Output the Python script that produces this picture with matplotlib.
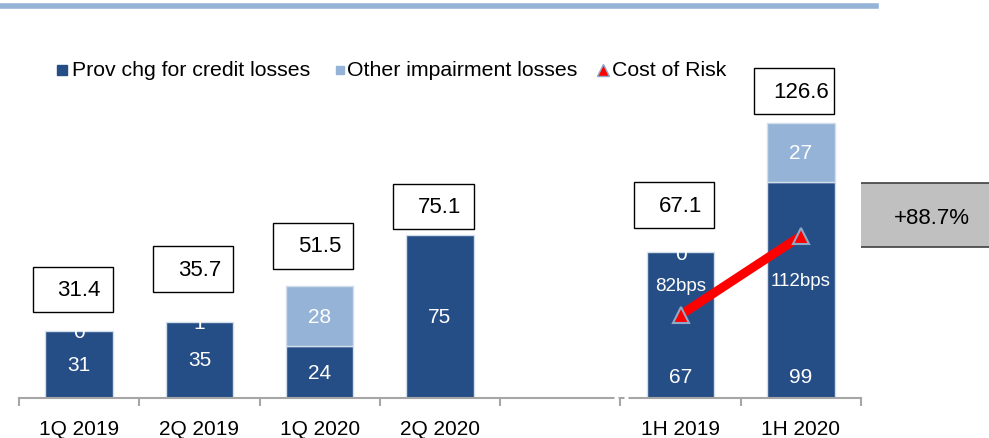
import matplotlib
matplotlib.use("Agg")
import matplotlib.pyplot as plt
from matplotlib.lines import Line2D
from matplotlib.patches import Rectangle

plt.rcParams["font.family"] = ["Liberation Sans", "DejaVu Sans"]

# ---- data ----
categories = ["1Q 2019", "2Q 2019", "1Q 2020", "2Q 2020", "", "1H 2019", "1H 2020"]
bar_slots = [0, 1, 2, 3, 5, 6]
prov_chg = [31.0, 35.0, 23.8, 75.0, 67.0, 99.3]
other_imp = [0.4, 0.7, 27.7, 0.0, 0.1, 27.3]
totals = [31.4, 35.7, 51.5, 75.1, 67.1, 126.6]
cor_slots = [5, 6]
cost_of_risk = [82, 112]          # bps
growth_label = "+88.7%"
legend_labels = ["Prov chg for credit losses", "Other impairment losses", "Cost of Risk"]

# ---- style / layout ----
DARK = "#264E86"
LIGHT = "#95B3D7"
EDGE = "#D3DEEC"
AXIS = "#A6A6A6"
BAR_W = 0.56
BOX_GAP = [8, 13, 8, 2.5, 11, 4]      # gap between bar top and total box (data units)
LOW_LABEL_SLOTS = {5, 6}              # dark label near the bottom on half-year bars
W, H = 989, 439


def fx(px):
    return px / W


def fy(py):
    return 1 - py / H


fig = plt.figure(figsize=(W / 100, H / 100), dpi=100)
ax = fig.add_axes([fx(19), 40 / H, 842 / W, 359 / H])
ax.set_xlim(-0.5, 6.5)
ax.set_ylim(0, 165)

ax.bar(bar_slots, prov_chg, BAR_W, color=DARK, edgecolor=EDGE, linewidth=1, zorder=2)
big = [i for i, o in enumerate(other_imp) if o >= 1]
ax.bar([bar_slots[i] for i in big], [other_imp[i] for i in big], BAR_W,
       bottom=[prov_chg[i] for i in big], color=LIGHT, edgecolor=EDGE, linewidth=1, zorder=2)

for x, d, o, tot, gap in zip(bar_slots, prov_chg, other_imp, totals, BOX_GAP):
    ylab = 10 if x in LOW_LABEL_SLOTS else d / 2
    ax.text(x, ylab, f"{d:.0f}", color="white", ha="center", va="center", fontsize=15, zorder=3)
    if o >= 1:
        ax.text(x, d + o / 2, f"{o:.0f}", color="white", ha="center", va="center",
                fontsize=15, zorder=3)
    elif o > 0:
        # tiny segment: label sits on the bar top, only its lower part shows on the bar
        ax.text(x, d + o - 3.4, f"{o:.0f}", color="white", ha="center", va="baseline",
                fontsize=15, zorder=3)
    # total box
    top = d + o
    bw, bh = 0.667, 21
    ax.add_patch(Rectangle((x - 0.054 - bw / 2, top + gap), bw, bh, facecolor="white",
                           edgecolor="black", linewidth=1, clip_on=False, zorder=4))
    ax.text(x, top + gap + bh / 2, f"{tot:.1f}", ha="center", va="center", fontsize=16,
            zorder=5, clip_on=False)

# x axis: ticks at slot boundaries, labels at centres
for s in ["top", "left", "right"]:
    ax.spines[s].set_visible(False)
ax.spines["bottom"].set_color(AXIS)
ax.spines["bottom"].set_linewidth(1.5)
ax.set_yticks([])
ax.set_xticks(range(len(categories)))
ax.set_xticklabels(categories, fontsize=15)
ax.tick_params(axis="x", which="major", length=0, pad=15)
ax.set_xticks([i - 0.5 for i in range(len(categories) + 1)], minor=True)
ax.tick_params(axis="x", which="minor", length=6, width=1.5, color=AXIS)
# small break in the axis line
for xa, xb in [(4.45, 4.48), (4.53, 4.56)]:
    ax.plot([xa, xb], [0, 0], color="white", lw=2.5, solid_capstyle="butt",
            clip_on=False, zorder=5)

# cost of risk on secondary axis
ax2 = ax.twinx()
ax2.set_ylim(50.4, 186.9)
ax2.axis("off")
ax2.plot(cor_slots, cost_of_risk, color="red", lw=6.5, zorder=3, solid_capstyle="butt")
ax2.plot(cor_slots, cost_of_risk, ls="none", marker="^", ms=12, mfc="red", mec="#8EA9C8",
         mew=1.5, zorder=4)
ax2.text(cor_slots[0], cost_of_risk[0] + 11, f"{cost_of_risk[0]}bps", color="white",
         ha="center", va="center", fontsize=13.5)
ax2.text(cor_slots[1], cost_of_risk[1] - 17, f"{cost_of_risk[1]}bps", color="white",
         ha="center", va="center", fontsize=13.5)

# growth box
fig.text(fx(932), fy(219), growth_label, ha="center", va="center", fontsize=16)
fig.add_artist(Rectangle((fx(857), fy(248)), 140 / W, 64 / H,
                         transform=fig.transFigure, facecolor="#C0C0C0",
                         edgecolor="#404040", linewidth=1.2, zorder=-1))

# top rule
fig.add_artist(Line2D([0, fx(876)], [fy(7)] * 2, color=LIGHT, lw=4))

# legend, laid out by hand to match the reference spacing
leg_marks = [dict(marker="s", ms=7, mfc=DARK, mec=DARK),
             dict(marker="s", ms=6, mfc=LIGHT, mec=LIGHT),
             dict(marker="^", ms=9, mfc="red", mec="#8EA9C8", mew=1)]
leg_mark_x = [61.5, 339.5, 603]
leg_text_x = [72, 347, 612]
for mk, mx, tx, lab in zip(leg_marks, leg_mark_x, leg_text_x, legend_labels):
    fig.add_artist(Line2D([fx(mx)], [fy(71)], ls="none", **mk))
    fig.text(fx(tx), fy(70), lab, ha="left", va="center", fontsize=15.3)

fig.savefig("out.png", dpi=100)
